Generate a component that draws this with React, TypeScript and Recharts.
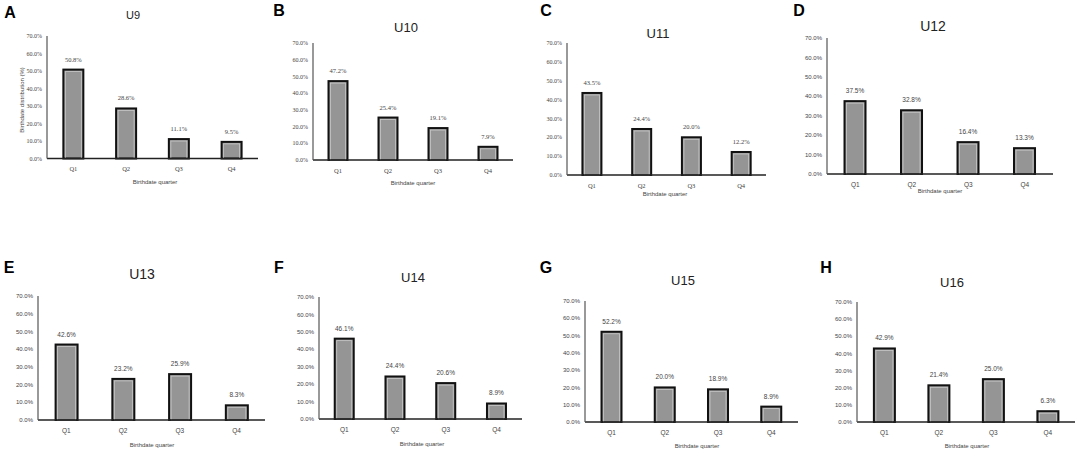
import React from "react";
import { BarChart, Bar, XAxis, YAxis, LabelList } from "recharts";

const quarters = ["Q1", "Q2", "Q3", "Q4"];
const yTicks = [0, 10, 20, 30, 40, 50, 60, 70];

const letters = ["A", "B", "C", "D", "E", "F", "G", "H"];
const titles = ["U9", "U10", "U11", "U12", "U13", "U14", "U15", "U16"];

const u9 = [50.8, 28.6, 11.1, 9.5];
const u10 = [47.2, 25.4, 19.1, 7.9];
const u11 = [43.5, 24.4, 20.0, 12.2];
const u12 = [37.5, 32.8, 16.4, 13.3];
const u13 = [42.6, 23.2, 25.9, 8.3];
const u14 = [46.1, 24.4, 20.6, 8.9];
const u15 = [52.2, 20.0, 18.9, 8.9];
const u16 = [42.9, 21.4, 25.0, 6.3];

const seriesList = [u9, u10, u11, u12, u13, u14, u15, u16];

// plot box [left, top, right, bottom], title centre + size, x-label centre, letter centre
const layout = [
  { plot: [47, 36, 258, 158.5], title: [133, 15, 11], xl: [155, 182], lt: [10, 12.5] },
  { plot: [313, 43, 513, 160], title: [406, 27, 13], xl: [413, 183], lt: [279, 11] },
  { plot: [567, 43, 766, 175], title: [658, 33, 13], xl: [665, 194], lt: [546, 11] },
  { plot: [827, 38, 1053, 174], title: [933, 26, 14], xl: [940, 191], lt: [799, 11] },
  { plot: [38, 296, 265, 420], title: [142, 274, 14], xl: [152, 445], lt: [9, 268] },
  { plot: [319, 297, 522, 419], title: [413, 277, 13], xl: [422, 444], lt: [279, 268] },
  { plot: [585, 301, 798, 422], title: [683, 280, 13], xl: [697, 446], lt: [546, 268] },
  { plot: [857, 302, 1075, 422], title: [952, 282, 13], xl: [967, 446], lt: [826, 268] },
];

const Y_W = 36;
const X_H = 24;

const BarShape = (props: any) => {
  const { x, y, width, height } = props;
  if (!height || height <= 0) return null;
  return (
    <g>
      <rect x={x} y={y} width={width} height={height} fill="#959595" stroke="#111" strokeWidth={2} />
      <rect
        x={x + 2}
        y={y + 2}
        width={Math.max(width - 4, 0)}
        height={Math.max(height - 2, 0)}
        fill="none"
        stroke="#c8c8c8"
        strokeWidth={0.8}
      />
    </g>
  );
};

const textAt = (cx: number, cy: number, style: React.CSSProperties, text: string) => (
  <div
    style={{
      position: "absolute",
      left: cx,
      top: cy,
      transform: "translate(-50%, -50%)",
      whiteSpace: "nowrap",
      lineHeight: 1,
      ...style,
    }}
  >
    {text}
  </div>
);

const Panel: React.FC<{ i: number }> = ({ i }) => {
  const { plot, title, xl, lt } = layout[i];
  const [pl, pt, pr, pb] = plot;
  const data = quarters.map((q, k) => ({ q, v: seriesList[i][k] }));
  const serif = i < 3;
  const tickFont = serif ? "Liberation Serif" : "Liberation Sans";
  const chartLeft = pl - Y_W;
  const chartTop = pt - 4;
  const width = pr - pl + Y_W + 2;
  const height = pb - pt + 4 + X_H;

  return (
    <>
      {textAt(lt[0], lt[1], { fontFamily: "Liberation Sans", fontWeight: 700, fontSize: 16, color: "#000" }, letters[i])}
      {textAt(title[0], title[1], { fontFamily: "Liberation Sans", fontSize: title[2], color: "#222" }, titles[i])}
      {textAt(xl[0], xl[1], { fontFamily: "Liberation Sans", fontSize: 6, color: "#444" }, "Birthdate quarter")}
      <div style={{ position: "absolute", left: chartLeft, top: chartTop }}>
        <BarChart
          width={width}
          height={height}
          data={data}
          margin={{ top: 4, right: 2, bottom: 0, left: 0 }}
          barCategoryGap="31%"
        >
          <XAxis
            dataKey="q"
            height={X_H}
            tickLine={false}
            tickSize={6}
            tickMargin={2}
            axisLine={{ stroke: "#222", strokeWidth: 1.5 }}
            tick={{ fontSize: 6.5, fill: "#444", fontFamily: tickFont }}
          />
          <YAxis
            width={Y_W}
            domain={[0, 70]}
            ticks={yTicks}
            tickLine={false}
            tickSize={3}
            tickMargin={2}
            axisLine={{ stroke: "#555", strokeWidth: 1.2 }}
            tickFormatter={(v: number) => v.toFixed(1) + "%"}
            tick={{ fontSize: 6, fill: "#444", fontFamily: tickFont }}
          />
          <Bar dataKey="v" isAnimationActive={false} shape={BarShape}>
            <LabelList
              dataKey="v"
              position="top"
              offset={8}
              formatter={(v: any) => Number(v).toFixed(1) + "%"}
              style={{ fontSize: 6.5, fill: "#444", fontFamily: tickFont }}
            />
          </Bar>
        </BarChart>
      </div>
    </>
  );
};

const App: React.FC = () => {
  return (
    <div
      style={{
        position: "absolute",
        left: 0,
        top: 0,
        width: 1084,
        height: 465,
        background: "#fff",
        overflow: "hidden",
      }}
    >
      {layout.map((_, i) => (
        <Panel key={i} i={i} />
      ))}
      <div
        style={{
          position: "absolute",
          left: 22,
          top: 100,
          transform: "translate(-50%, -50%) rotate(-90deg)",
          whiteSpace: "nowrap",
          fontFamily: "Liberation Sans",
          fontSize: 6,
          color: "#444",
          lineHeight: 1,
        }}
      >
        Birthdate distribution (%)
      </div>
    </div>
  );
};

export default App;
